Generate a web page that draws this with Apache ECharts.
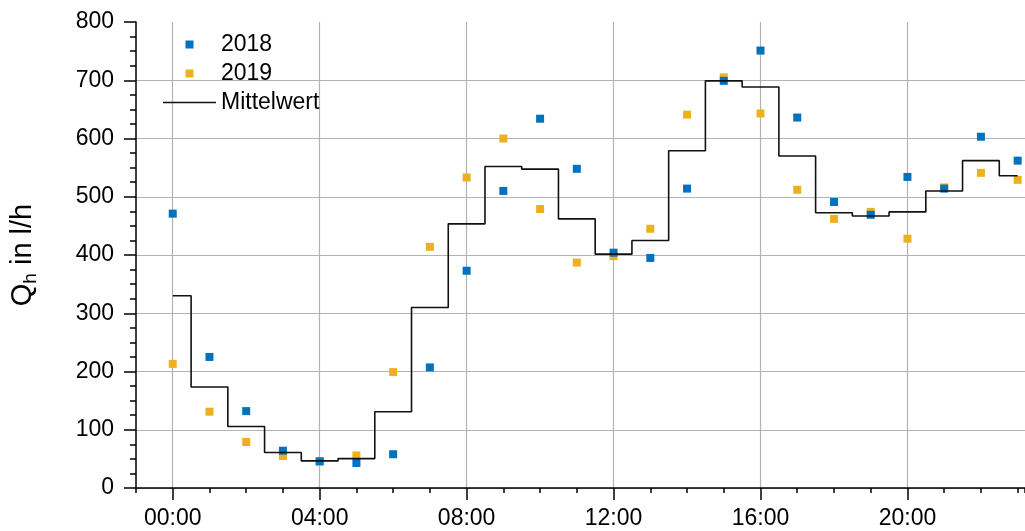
<!DOCTYPE html>
<html>
<head>
<meta charset="utf-8">
<script src="https://cdn.jsdelivr.net/npm/echarts@6/dist/echarts.min.js"></script>
<style>
  html, body { margin: 0; padding: 0; background: #ffffff; }
  #chart { width: 1025px; height: 531px; }
</style>
</head>
<body>
<div id="chart"></div>
<script>
// Hour of day (0 = 00:00 ... 23 = 23:00)
const hours = [0, 1, 2, 3, 4, 5, 6, 7, 8, 9, 10, 11, 12, 13, 14, 15, 16, 17, 18, 19, 20, 21, 22, 23];

// Hourly flow Q_h in l/h
const q2018 = [471, 225, 132, 64, 46, 43, 58, 207, 373, 510, 634, 548, 404, 395, 514, 699, 751, 636, 491, 469, 534, 514, 603, 562];
const q2019 = [213, 131, 79, 55, 45, 56, 199, 414, 533, 600, 479, 387, 398, 445, 641, 705, 643, 512, 462, 474, 428, 516, 541, 529];
const mittelwert = [330, 173.5, 105.5, 61, 46.5, 50.5, 131, 310, 453.5, 552, 547.5, 462, 401.5, 425, 579, 699, 688.5, 570, 472.5, 467, 474, 510, 562, 536];

// Labelled hours on the time axis
const hourTicks = [0, 4, 8, 12, 16, 20];

const FONT = '"Liberation Sans", Arial, sans-serif';
const GRID_COLOR = '#b3b3b3';
const BLUE = '#0072BD';
const YELLOW = '#EDB120';

const pairs = (ys) => hours.map((h, i) => [h, ys[i]]);
const hourLabel = (v) => String(v).padStart(2, '0') + ':00';

const chart = echarts.init(document.getElementById('chart'), null, { renderer: 'canvas' });

chart.setOption({
  animation: false,
  backgroundColor: '#ffffff',
  textStyle: { fontFamily: FONT },
  grid: { left: 136, right: 0, top: 22, bottom: 43, containLabel: false },
  legend: {
    orient: 'vertical',
    left: 163,
    top: 33,
    padding: 0,
    itemWidth: 53,
    itemHeight: 8,
    itemGap: 6,
    textStyle: { fontFamily: FONT, fontSize: 23, color: '#000' },
    data: [
      { name: '2018', icon: 'path://M0 0H8V8H0Z' },
      { name: '2019', icon: 'path://M0 0H8V8H0Z' },
      { name: 'Mittelwert', icon: 'path://M0 0H53V1.6H0Z', itemStyle: { color: '#111' } }
    ]
  },
  xAxis: [
    {
      // hourly minor ticks along the bottom edge
      type: 'value',
      min: -1,
      max: 23.2,
      interval: 1,
      axisLine: { show: true, onZero: false, lineStyle: { color: '#000', width: 1.5 } },
      axisTick: { show: true, inside: false, length: 5, lineStyle: { color: '#000', width: 1.5 } },
      axisLabel: { show: false },
      splitLine: { show: false }
    },
    {
      // labelled every four hours, with long ticks and vertical grid lines
      type: 'value',
      position: 'bottom',
      min: -1,
      max: 23.2,
      axisLine: { show: false, onZero: false },
      axisTick: {
        show: true, inside: false, length: 12,
        customValues: hourTicks,
        lineStyle: { color: '#000', width: 1.5 }
      },
      axisLabel: {
        show: true,
        customValues: hourTicks,
        margin: 19,
        fontFamily: FONT,
        fontSize: 23,
        color: '#000',
        formatter: hourLabel
      },
      splitLine: { show: true, lineStyle: { color: GRID_COLOR, width: 1.2 } }
    }
  ],
  yAxis: {
    type: 'value',
    min: 0,
    max: 800,
    interval: 100,
    axisLine: { show: true, onZero: false, lineStyle: { color: '#000', width: 1.5 } },
    axisTick: { show: true, inside: false, length: 12, lineStyle: { color: '#000', width: 1.5 } },
    minorTick: { show: true, splitNumber: 4, length: 6, lineStyle: { color: '#000', width: 1.5 } },
    axisLabel: { margin: 22, fontFamily: FONT, fontSize: 23, color: '#000' },
    splitLine: {
      show: true,
      lineStyle: {
        color: [GRID_COLOR, GRID_COLOR, GRID_COLOR, GRID_COLOR, GRID_COLOR, GRID_COLOR, GRID_COLOR, GRID_COLOR, 'rgba(0,0,0,0)'],
        width: 1.2
      }
    },
    name: '{q|Q}{s|h}{q| in l/h}',
    nameLocation: 'middle',
    nameGap: 94,
    nameTextStyle: {
      color: '#000',
      rich: {
        q: { fontFamily: FONT, fontSize: 29, color: '#000', lineHeight: 34, verticalAlign: 'top' },
        s: { fontFamily: FONT, fontSize: 19, color: '#000', lineHeight: 34, verticalAlign: 'top', padding: [13, 0, 0, 0] }
      }
    }
  },
  series: [
    {
      name: '2019',
      type: 'scatter',
      xAxisIndex: 0,
      symbol: 'rect',
      symbolSize: 8,
      itemStyle: { color: YELLOW, opacity: 1 },
      z: 2,
      data: pairs(q2019)
    },
    {
      name: '2018',
      type: 'scatter',
      xAxisIndex: 0,
      symbol: 'rect',
      symbolSize: 8,
      itemStyle: { color: BLUE, opacity: 1 },
      z: 3,
      data: pairs(q2018)
    },
    {
      name: 'Mittelwert',
      type: 'line',
      xAxisIndex: 0,
      step: 'middle',
      symbol: 'none',
      showSymbol: false,
      lineStyle: { color: '#111', width: 1.6 },
      itemStyle: { color: '#111' },
      z: 4,
      data: pairs(mittelwert)
    }
  ]
});
</script>
</body>
</html>
